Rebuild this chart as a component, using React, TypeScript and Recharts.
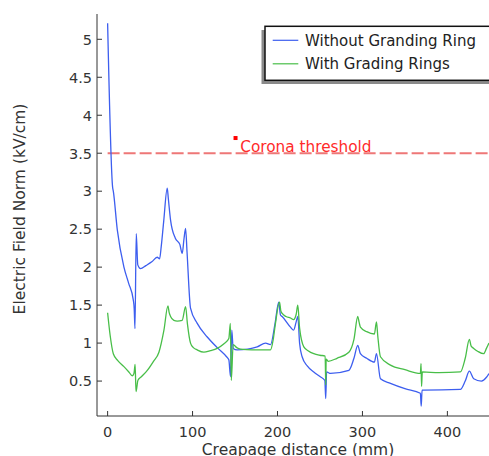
import { Legend, Line, LineChart, ReferenceDot, ReferenceLine, XAxis, YAxis } from 'recharts';

// Creepage distance (mm) / field norm (kV/cm)
const withoutRingX = [
  0, 5.9, 6.7, 11.4, 19.2, 24.7, 30.2, 31.3, 32.2, 33.7, 35.5, 38.8, 45, 52, 58.4, 61.2, 63.1, 66, 70.2,
  71.5, 74.1, 79.7, 85, 87.8, 90, 91.8, 93.5, 97.6, 105.5, 117.3, 130, 140, 142.7, 144.7, 146.2, 147.8,
  152.5, 165, 176.1, 186, 191.8, 197, 201.5, 203.5, 205.5, 215.3, 219, 222, 223.9, 226, 229, 235, 242.7,
  250, 255.7, 256.8, 257.8, 262.4, 284, 290, 294.5, 297.6, 305, 314.1, 316.5, 321.2, 333, 350, 368.2,
  369.2, 370.2, 372, 415.3, 421, 425.9, 431, 440, 446, 449,
];
const withoutRingY = [
  5.21, 3.05, 3.0, 2.49, 2.0, 1.79, 1.57, 1.45, 1.19, 2.44, 2.03, 1.98, 2.02, 2.07, 2.13, 2.11, 2.27, 2.6,
  3.04, 2.9, 2.62, 2.38, 2.3, 2.18, 2.38, 2.51, 2.2, 1.46, 1.26, 1.08, 0.93, 0.82, 0.78, 0.56, 1.17, 0.93,
  0.91, 0.92, 0.95, 1.0, 0.98, 1.25, 1.54, 1.37, 1.35, 1.21, 1.17, 1.28, 1.35, 1.0, 0.82, 0.7, 0.62, 0.56,
  0.51, 0.27, 0.62, 0.6, 0.64, 0.8, 0.97, 0.86, 0.8, 0.75, 0.86, 0.53, 0.47, 0.4, 0.34, 0.17, 0.38, 0.38,
  0.39, 0.5, 0.63, 0.53, 0.5, 0.55, 0.6,
];
const withRingsX = [
  0, 3, 6.7, 12, 19.2, 25, 29, 31, 32.4, 33.4, 35.7, 40, 46.7, 54, 60.4, 66.3, 71, 72.5, 74.1, 78, 82, 87.8,
  91.8, 94, 97.6, 101, 105.5, 113.3, 121, 129, 137, 142.7, 144.5, 145.6, 147.8, 152, 156.5, 170, 191.8, 195,
  197.6, 202.4, 204, 205.5, 210, 215.3, 219, 222, 223.9, 226, 231, 236, 242.7, 250, 256.1, 256.8, 257.3,
  259.6, 270, 284, 290, 294.5, 296, 297.6, 305, 314.1, 316.5, 318, 321.2, 333, 350, 368.2, 369, 369.6,
  370.5, 390, 415.3, 421, 425.9, 428, 431, 436, 442.7, 446, 449,
];
const withRingsY = [
  1.4, 1.1, 0.86, 0.77, 0.69, 0.62, 0.57, 0.6, 0.72, 0.36, 0.51, 0.56, 0.64, 0.76, 0.88, 1.17, 1.49, 1.4,
  1.35, 1.3, 1.29, 1.3, 1.48, 1.25, 1.0, 0.94, 0.91, 0.88, 0.9, 0.93, 0.99, 1.06, 1.26, 0.51, 0.98, 0.94,
  0.92, 0.91, 0.91, 1.05, 1.26, 1.54, 1.42, 1.39, 1.35, 1.33, 1.31, 1.38, 1.5, 1.2, 0.95, 0.9, 0.86, 0.84,
  0.83, 0.45, 0.79, 0.76, 0.8, 0.88, 1.05, 1.35, 1.28, 1.21, 1.15, 1.12, 1.28, 1.1, 0.82, 0.71, 0.65, 0.6,
  0.73, 0.43, 0.62, 0.61, 0.62, 0.8, 1.05, 0.96, 0.93, 0.89, 0.86, 0.93, 1.0,
];

const seriesNames = ['Without Granding Ring', 'With Grading Rings'];
const seriesColors = ['#3d5eef', '#48be48'];
const xTicks = [0, 100, 200, 300, 400];
const yTicks = [0.5, 1, 1.5, 2, 2.5, 3, 3.5, 4, 4.5, 5];
const thresholdValue = 3.5;
const thresholdLabel = 'Corona threshold';
const markerX = 150.6;
const markerY = 3.7;

const withoutRing = withoutRingX.map((x, i) => ({ x, y: withoutRingY[i] }));
const withRings = withRingsX.map((x, i) => ({ x, y: withRingsY[i] }));

const FONT = '"DejaVu Sans", Verdana, sans-serif';
const INK = '#333';

function BottomTick({ x, y, payload }: any) {
  return (
    <g>
      <line x1={x} y1={y} x2={x} y2={y - 5} stroke={INK} />
      <text x={x} y={y + 21} textAnchor="middle" fontSize={14.5} fill={INK} fontFamily={FONT}>
        {payload.value}
      </text>
    </g>
  );
}

function TopTick({ x, y }: any) {
  return <line x1={x} y1={y} x2={x} y2={y + 5} stroke={INK} />;
}

function LeftTick({ x, y, payload }: any) {
  return (
    <g>
      <line x1={x} y1={y} x2={x + 5} y2={y} stroke={INK} />
      <text x={x - 5} y={y + 5.3} textAnchor="end" fontSize={14.5} fill={INK} fontFamily={FONT}>
        {payload.value}
      </text>
    </g>
  );
}

// the page crops this title at the bottom edge, as in the source image
function XTitle() {
  return (
    <text x={298} y={455} textAnchor="middle" fontSize={15.5} fill={INK} fontFamily={FONT}>
      Creapage distance (mm)
    </text>
  );
}

function YTitle() {
  return (
    <text
      x={25}
      y={209}
      transform="rotate(-90 25 209)"
      textAnchor="middle"
      fontSize={15.5}
      fill={INK}
      fontFamily={FONT}
    >
      Electric Field Norm (kV/cm)
    </text>
  );
}

function ThresholdMarker({ cx, cy }: any) {
  return (
    <g>
      <rect x={cx - 2} y={cy - 2} width={4} height={4} fill="#ff0000" />
      <text x={cx + 4.7} y={cy + 14.3} fontSize={15.3} fill="#ff2a2a" fontFamily={FONT}>
        {thresholdLabel}
      </text>
    </g>
  );
}

function LegendBox() {
  return (
    <svg width={240} height={64} style={{ display: 'block' }}>
      <rect x={0.5} y={5} width={240} height={54} fill="#8a8a8a" />
      <rect x={4} y={1.3} width={240} height={54} fill="#fff" stroke="#111" strokeWidth={1.5} />
      {seriesNames.map((name, i) => {
        const ly = 15.3 + i * 23.5;
        return (
          <g key={name}>
            <line x1={11.7} y1={ly} x2={37.3} y2={ly} stroke={seriesColors[i]} strokeWidth={1.2} />
            <text x={44} y={ly + 5.3} fontSize={15} fill="#222" fontFamily={FONT}>
              {name}
            </text>
          </g>
        );
      })}
    </svg>
  );
}

export default function App() {
  return (
    <div style={{ position: 'absolute', left: 0, top: 0, width: 489, height: 456, overflow: 'hidden', background: '#fff' }}>
      <LineChart width={489} height={456} margin={{ top: 14, right: 0, left: 0, bottom: 0 }}>
        <XAxis
          type="number"
          dataKey="x"
          domain={[-12.5, 449]}
          ticks={xTicks}
          allowDataOverflow
          height={40}
          stroke={INK}
          tickLine={false}
          tickSize={0}
          tickMargin={0}
          tick={<BottomTick />}
          label={<XTitle />}
        />
        <XAxis
          xAxisId="top"
          orientation="top"
          type="number"
          domain={[-12.5, 449]}
          ticks={xTicks}
          allowDataOverflow
          height={0}
          stroke={INK}
          tickLine={false}
          tickSize={0}
          tickMargin={0}
          tick={<TopTick />}
        />
        <YAxis
          type="number"
          domain={[0.04, 5.333]}
          ticks={yTicks}
          allowDataOverflow
          width={97}
          stroke={INK}
          tickLine={false}
          tickSize={0}
          tickMargin={0}
          tick={<LeftTick />}
          label={<YTitle />}
        />
        <ReferenceLine
          segment={[
            { x: 0, y: thresholdValue },
            { x: 449, y: thresholdValue },
          ]}
          stroke="#ee7777"
          strokeWidth={2}
          strokeDasharray="12 4"
        />
        <Line
          data={withoutRing}
          dataKey="y"
          name={seriesNames[0]}
          type="monotoneX"
          stroke={seriesColors[0]}
          strokeWidth={1.3}
          dot={false}
          isAnimationActive={false}
        />
        <Line
          data={withRings}
          dataKey="y"
          name={seriesNames[1]}
          type="monotoneX"
          stroke={seriesColors[1]}
          strokeWidth={1.3}
          dot={false}
          isAnimationActive={false}
        />
        <ReferenceDot x={markerX} y={markerY} r={2} shape={(p: any) => <ThresholdMarker {...p} />} />
        <Legend
          layout="horizontal"
          verticalAlign="middle"
          align="center"
          wrapperStyle={{ position: 'absolute', left: 261, top: 25, width: 240, height: 64 }}
          content={<LegendBox />}
        />
      </LineChart>
    </div>
  );
}
